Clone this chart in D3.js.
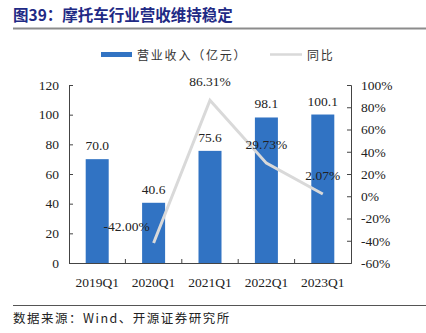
<!DOCTYPE html>
<html><head><meta charset="utf-8">
<script src="https://cdn.jsdelivr.net/npm/d3@7"></script>
<style>body{margin:0;background:#fff}svg{display:block}</style>
</head><body><svg id="c" width="426" height="333"></svg>
<script>
const categories = ["2019Q1","2020Q1","2021Q1","2022Q1","2023Q1"];
const revenue = [70.0, 40.6, 75.6, 98.1, 100.1];
const growth = [null, -42.00, 86.31, 29.73, 2.07];
const leftTicks = [0,20,40,60,80,100,120];
const rightTicks = [-60,-40,-20,0,20,40,60,80,100];

const svg = d3.select("#c");
const serif = "'Liberation Serif','Times New Roman',serif";
const cjk = "'Noto Sans CJK SC',sans-serif";
const m = {l:69, r:351, t:85, b:263};

// title
svg.append("text").attr("x",13).attr("y",21).attr("fill","#1F2A85")
  .attr("font-family",cjk).attr("font-weight","bold").attr("font-size",15.5)
  .text("图39：摩托车行业营收维持稳定");
svg.append("line").attr("x1",13).attr("x2",426).attr("y1",28.5).attr("y2",28.5)
  .attr("stroke","#8c8c8c").attr("stroke-width",2);

// footer
svg.append("line").attr("x1",13).attr("x2",426).attr("y1",305.5).attr("y2",305.5)
  .attr("stroke","#555").attr("stroke-width",1);
svg.append("text").attr("x",13).attr("y",323).attr("fill","#222")
  .attr("font-family",cjk).attr("font-size",12.5).attr("letter-spacing",1.5)
  .text("数据来源：Wind、开源证券研究所");

// legend
svg.append("rect").attr("x",101).attr("y",52).attr("width",31).attr("height",5).attr("fill","#3173C3");
svg.append("text").attr("x",137).attr("y",59.5).attr("font-family",cjk).attr("font-size",12).attr("fill","#333")
  .attr("letter-spacing",1.8).text("营业收入（亿元）");
svg.append("line").attr("x1",270).attr("x2",302).attr("y1",54.5).attr("y2",54.5).attr("stroke","#D9D9D9").attr("stroke-width",2.5);
svg.append("text").attr("x",307).attr("y",59.5).attr("font-family",cjk).attr("font-size",12).attr("fill","#333")
  .attr("letter-spacing",1.8).text("同比");

const xb = d3.scaleBand().domain(categories).range([m.l,m.r]);
const y = d3.scaleLinear().domain([0,120]).range([m.b,m.t]);
const y2 = d3.scaleLinear().domain([-60,100]).range([m.b,m.t]);

// bars
svg.selectAll("rect.bar").data(revenue).enter().append("rect").attr("class","bar")
  .attr("x",(d,i)=>xb(categories[i])+xb.bandwidth()/2-11.5).attr("width",23)
  .attr("y",d=>y(d)).attr("height",d=>y(0)-y(d)).attr("fill","#3173C3");
svg.selectAll("text.bl").data(revenue).enter().append("text").attr("class","bl")
  .attr("x",(d,i)=>xb(categories[i])+xb.bandwidth()/2).attr("y",d=>y(d)-9)
  .attr("text-anchor","middle").attr("font-family",serif).attr("font-size",13.5).attr("fill","#222")
  .text(d=>d.toFixed(1));

// axes
const fontAxis = g=>g.selectAll("text").attr("font-family",serif).attr("font-size",13.5).attr("fill","#222");
const gl = svg.append("g").attr("transform",`translate(${m.l},0)`)
  .call(d3.axisRight(y).tickValues(leftTicks).tickSize(4).tickFormat(d3.format("d")));
gl.selectAll("text").attr("x",-10).attr("text-anchor","end");
fontAxis(gl);
const gr = svg.append("g").attr("transform",`translate(${m.r},0)`)
  .call(d3.axisLeft(y2).tickValues(rightTicks).tickSize(4).tickFormat(d=>d+"%"));
gr.selectAll("text").attr("x",10).attr("text-anchor","start");
fontAxis(gr);
const gx = svg.append("g").attr("transform",`translate(0,${m.b})`)
  .call(d3.axisTop(xb).tickSize(0).tickFormat(""));
gx.selectAll(".tick").remove();
svg.selectAll("line.xt").data(categories.slice(1)).enter().append("line").attr("class","xt")
  .attr("x1",d=>xb(d)).attr("x2",d=>xb(d)).attr("y1",m.b).attr("y2",m.b-4).attr("stroke","#444");
svg.selectAll("text.xl").data(categories).enter().append("text").attr("class","xl")
  .attr("x",d=>xb(d)+xb.bandwidth()/2).attr("y",m.b+24).attr("text-anchor","middle")
  .attr("font-family",serif).attr("font-size",13.5).attr("fill","#222").text(d=>d);
[gl,gr,gx].forEach(g=>g.selectAll("path,line").attr("stroke","#444"));

// growth line
const pts = growth.map((g,i)=>({g, c:categories[i]})).filter(d=>d.g!==null);
const line = d3.line().x(d=>xb(d.c)+xb.bandwidth()/2).y(d=>y2(d.g));
svg.append("path").datum(pts).attr("d",line).attr("fill","none")
  .attr("stroke","#D9D9D9").attr("stroke-width",3);
svg.selectAll("text.gl").data(pts).enter().append("text").attr("class","gl")
  .attr("x",(d,i)=>xb(d.c)+xb.bandwidth()/2 + (i===0?-27:0))
  .attr("y",(d,i)=>y2(d.g)+(i===0?-12:-14))
  .attr("text-anchor","middle").attr("font-family",serif).attr("font-size",13.5).attr("fill","#222")
  .text(d=>d.g.toFixed(2)+"%");
</script></body></html>
